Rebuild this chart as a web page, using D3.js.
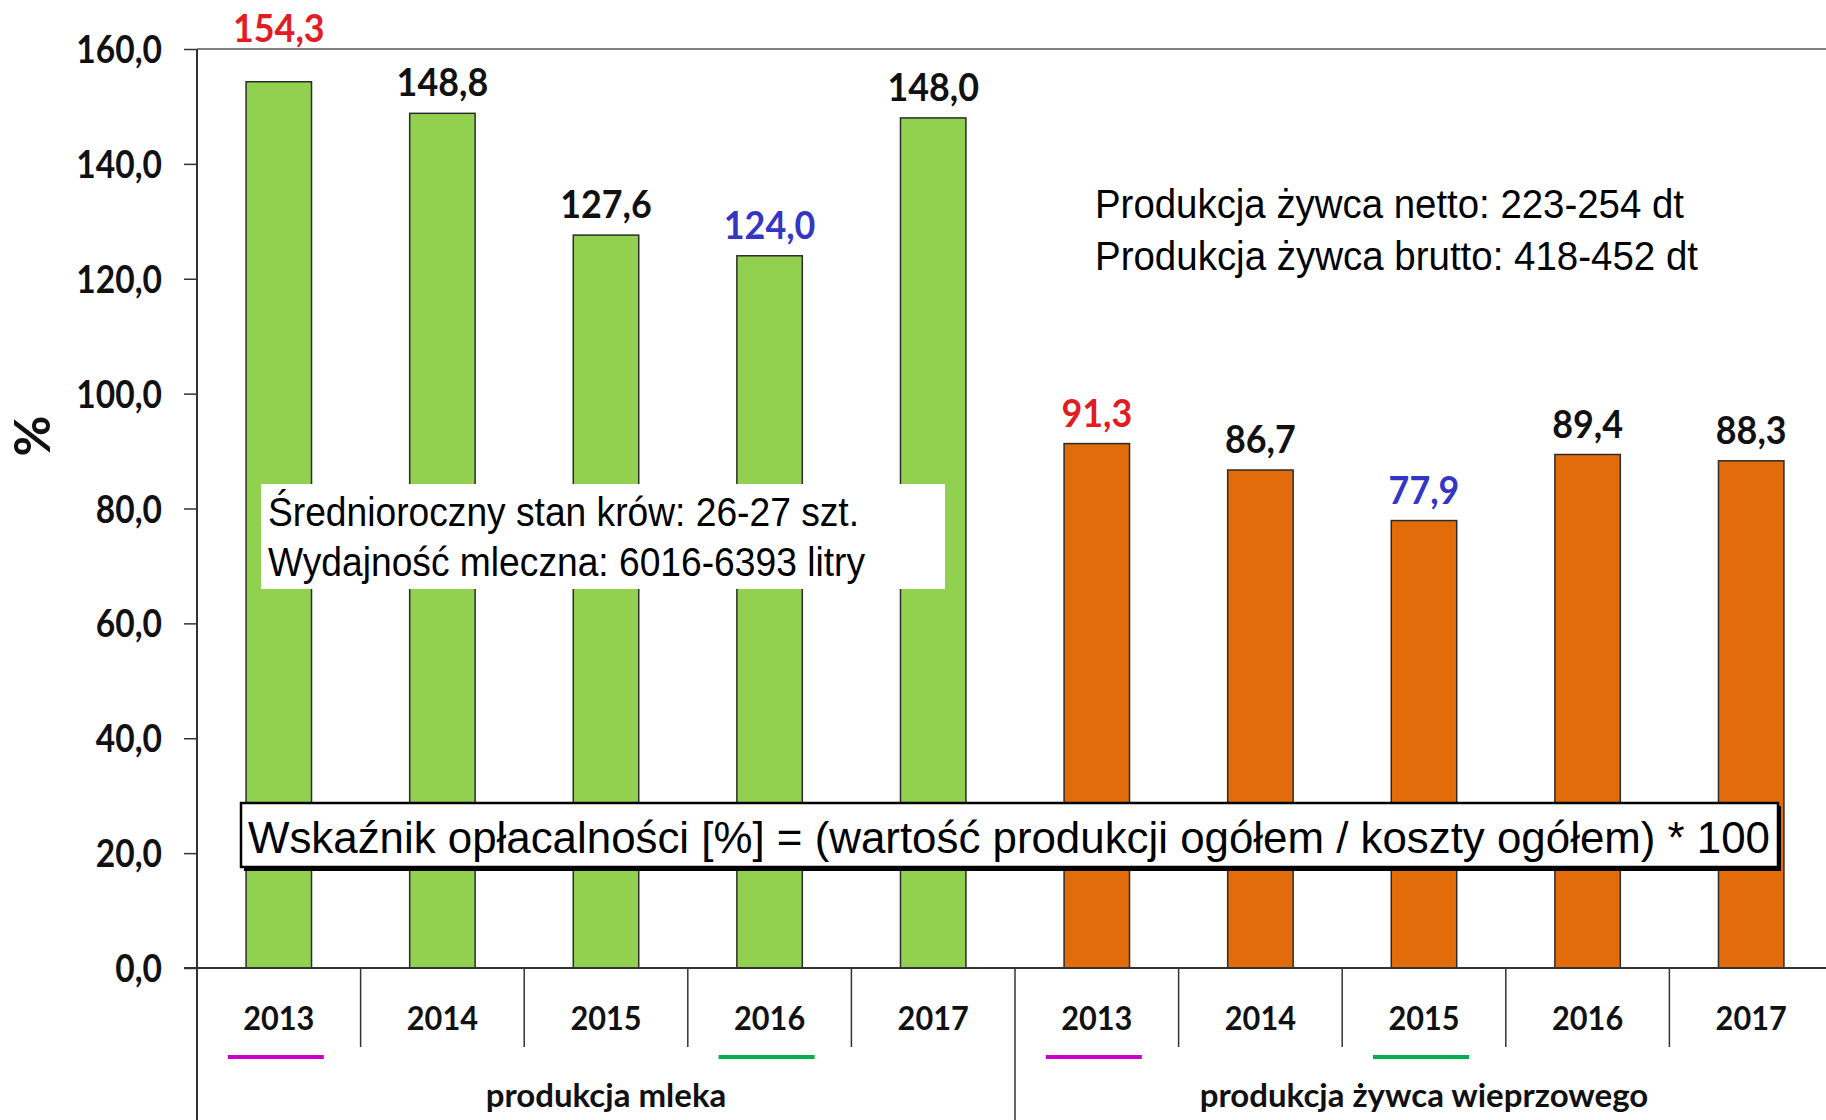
<!DOCTYPE html>
<html>
<head>
<meta charset="utf-8">
<script src="https://cdn.jsdelivr.net/npm/d3@7"></script>
<style>
  html, body { margin: 0; padding: 0; background: #fff; }
  svg { display: block; }
</style>
</head>
<body>
<svg id="chart"></svg>
<script>
const groups      = ['produkcja mleka', 'produkcja żywca wieprzowego'];
const years       = ['2013', '2014', '2015', '2016', '2017'];
const milkValues  = [154.3, 148.8, 127.6, 124.0, 148.0];
const porkValues  = [91.3, 86.7, 77.9, 89.4, 88.3];
const yTicks      = [0, 20, 40, 60, 80, 100, 120, 140, 160];
const yLabel      = '%';
const noteMilk    = ['Średnioroczny stan krów: 26-27 szt.', 'Wydajność mleczna: 6016-6393 litry'];
const notePork    = ['Produkcja żywca netto: 223-254 dt', 'Produkcja żywca brutto: 418-452 dt'];
const formulaNote = 'Wskaźnik opłacalności [%] = (wartość produkcji ogółem / koszty ogółem) * 100';

const W = 1826, H = 1120;
const barColors = ['#92D050', '#E36C0A'];
const calibri = 'Lato, "Open Sans", sans-serif';
const arial = '"Liberation Sans", Arial, sans-serif';
const fmt = v => v.toFixed(1).replace('.', ',');

const rows = [];
[milkValues, porkValues].forEach((vals, g) => {
  const max = d3.max(vals), min = d3.min(vals);
  vals.forEach((v, i) => rows.push({
    key: g + '-' + years[i], group: g, year: years[i], value: v,
    tag: v === max ? 'max' : v === min ? 'min' : ''
  }));
});

const svg = d3.select('#chart').attr('width', W).attr('height', H);

const x = d3.scaleBand()
  .domain(rows.map(d => d.key))
  .range([197, 1833]);

const y = d3.scaleLinear()
  .domain([0, 160])
  .range([968, 49]);

const barW = x.bandwidth() * 0.40;
const cx = d => x(d.key) + x.bandwidth() / 2;

// y axis ticks, labels drawn separately (condensed look)
const yAxis = svg.append('g')
  .attr('transform', 'translate(197,0)')
  .call(d3.axisLeft(y).tickValues(yTicks).tickSize(13).tickFormat(''));
yAxis.select('.domain').remove();
yAxis.selectAll('line').attr('stroke', '#333').attr('stroke-width', 1.5);

svg.selectAll('.ytick')
  .data(yTicks)
  .enter()
  .append('text')
  .attr('transform', d => `translate(162,${y(d)}) scale(0.86,1)`)
  .attr('text-anchor', 'end')
  .attr('dy', '0.36em')
  .attr('font-family', calibri)
  .attr('font-weight', 700)
  .attr('font-size', 39)
  .attr('fill', '#111')
  .text(fmt);

// plot frame: top line, axis
svg.append('line')
  .attr('x1', 197).attr('x2', W)
  .attr('y1', y(160)).attr('y2', y(160))
  .attr('stroke', '#555').attr('stroke-width', 1.5);

svg.append('line')
  .attr('x1', 197).attr('x2', 197)
  .attr('y1', y(160)).attr('y2', H)
  .attr('stroke', '#333').attr('stroke-width', 2);

// bars
svg.selectAll('.bar')
  .data(rows)
  .enter()
  .append('rect')
  .attr('class', 'bar')
  .attr('x', d => cx(d) - barW / 2)
  .attr('y', d => y(d.value))
  .attr('width', barW)
  .attr('height', d => y(0) - y(d.value))
  .attr('fill', d => barColors[d.group])
  .attr('stroke', '#2b2b2b')
  .attr('stroke-width', 1.5);

svg.append('line')
  .attr('x1', 184).attr('x2', W)
  .attr('y1', y(0)).attr('y2', y(0))
  .attr('stroke', '#333').attr('stroke-width', 2);

// category separators
svg.selectAll('.sep')
  .data(rows.slice(1))
  .enter()
  .append('line')
  .attr('x1', d => x(d.key)).attr('x2', d => x(d.key))
  .attr('y1', y(0))
  .attr('y2', d => d.year === years[0] ? H : 1047)
  .attr('stroke', '#333').attr('stroke-width', 1.5);

// value labels (lifted above the frame line when they would cross it)
const labelColor = { max: '#E31B23', min: '#3535C5', '': '#111' };
const labelY = d => {
  const base = y(d.value) - 17;
  return base - 30 < y(160) ? y(160) - 7 : base;
};
svg.selectAll('.vlabel')
  .data(rows)
  .enter()
  .append('text')
  .attr('transform', d => `translate(${cx(d)},${labelY(d)}) scale(0.92,1)`)
  .attr('text-anchor', 'middle')
  .attr('font-family', calibri)
  .attr('font-weight', 700)
  .attr('font-size', 39)
  .attr('fill', d => labelColor[d.tag])
  .text(d => fmt(d.value));

// year labels
svg.selectAll('.year')
  .data(rows)
  .enter()
  .append('text')
  .attr('transform', d => `translate(${cx(d)},1030) scale(0.93,1)`)
  .attr('text-anchor', 'middle')
  .attr('font-family', calibri)
  .attr('font-weight', 700)
  .attr('font-size', 33)
  .attr('fill', '#111')
  .text(d => d.year);

// max / min year markers
svg.selectAll('.mark')
  .data(rows.filter(d => d.tag))
  .enter()
  .append('rect')
  .attr('x', d => cx(d) - 51)
  .attr('y', 1055)
  .attr('width', 96)
  .attr('height', 4)
  .attr('fill', d => d.tag === 'max' ? '#CC00CC' : '#00B050');

// group labels
svg.selectAll('.group')
  .data(groups)
  .enter()
  .append('text')
  .attr('x', (d, g) => {
    const keys = rows.filter(r => r.group === g).map(r => r.key);
    return (x(keys[0]) + x(keys[keys.length - 1]) + x.bandwidth()) / 2;
  })
  .attr('y', 1107)
  .attr('text-anchor', 'middle')
  .attr('font-family', calibri)
  .attr('font-weight', 700)
  .attr('font-size', 33)
  .attr('fill', '#111')
  .text(d => d);

// y axis title
svg.append('text')
  .attr('transform', 'translate(50,436) rotate(-90)')
  .attr('text-anchor', 'middle')
  .attr('font-family', calibri)
  .attr('font-weight', 700)
  .attr('font-size', 50)
  .attr('fill', '#111')
  .text(yLabel);

// annotation: milk
svg.append('rect')
  .attr('x', 261).attr('y', 484)
  .attr('width', 684).attr('height', 105)
  .attr('fill', '#fff');

svg.selectAll('.noteMilk')
  .data(noteMilk)
  .enter()
  .append('text')
  .attr('x', 268)
  .attr('y', (d, i) => 526 + i * 50)
  .attr('font-family', arial)
  .attr('font-size', 41)
  .attr('textLength', (d, i) => [591, 597][i])
  .attr('lengthAdjust', 'spacingAndGlyphs')
  .attr('fill', '#000')
  .text(d => d);

// annotation: pork
svg.selectAll('.notePork')
  .data(notePork)
  .enter()
  .append('text')
  .attr('x', 1095)
  .attr('y', (d, i) => 218 + i * 52)
  .attr('font-family', arial)
  .attr('font-size', 40)
  .attr('textLength', (d, i) => [589, 603][i])
  .attr('lengthAdjust', 'spacingAndGlyphs')
  .attr('fill', '#000')
  .text(d => d);

// formula box
svg.append('rect')
  .attr('x', 244).attr('y', 806)
  .attr('width', 1537).attr('height', 65)
  .attr('fill', '#000');
svg.append('rect')
  .attr('x', 241).attr('y', 803)
  .attr('width', 1537).attr('height', 64)
  .attr('fill', '#fff')
  .attr('stroke', '#000')
  .attr('stroke-width', 2.5);

svg.append('text')
  .attr('x', 248)
  .attr('y', 853)
  .attr('font-family', arial)
  .attr('font-size', 44)
  .attr('textLength', 1522)
  .attr('lengthAdjust', 'spacingAndGlyphs')
  .attr('fill', '#000')
  .text(formulaNote);
</script>
</body>
</html>
